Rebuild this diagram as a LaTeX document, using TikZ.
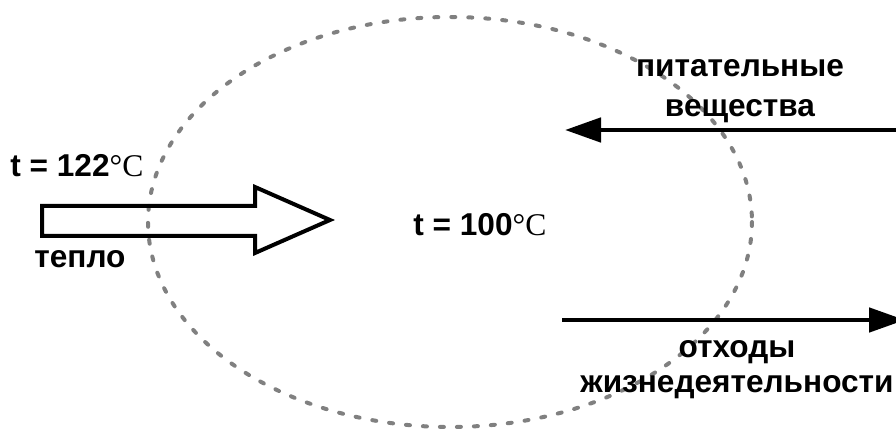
\documentclass[tikz,border=0pt]{standalone}
\usepackage{fontspec}
\setmainfont{Liberation Sans}
\newfontfamily\timesfont{Liberation Serif}
\usetikzlibrary{arrows.meta, positioning}
\newcommand{\degC}{{\timesfont\mdseries °C}}

\begin{document}
\begin{tikzpicture}[x=0.5pt, y=-0.5pt,
	txt/.style={font=\fontsize{15.8}{20}\selectfont\bfseries, inner sep=0pt, align=center},
	cell/.style={draw=black!50, line width=2pt, dash pattern=on 2pt off 6.5pt, line cap=round},
	flow/.style={-{Triangle[length=18pt, width=12pt]}, line width=2.4pt},
	heatarrow/.style={draw, line width=2pt, line join=miter}
	]
	\useasboundingbox (0,0) rectangle (896,433);
	% cell boundary
	\draw[cell] (450,222) ellipse (302 and 205);
	% heat coming in
	\draw[heatarrow] (42,206) -- (255,206) -- (255,187) -- (330,220) -- (255,253) -- (255,236) -- (42,236) -- cycle;
	\node[txt, anchor=base west] (t-out) at (10,177) {t = 122\degC};
	\node[txt, anchor=base west] (heat-lbl) at (34,268) {тепло};
	\node[txt, anchor=base west] (t-in) at (413,235) {t = 100\degC};
	% nutrients and wastes
	\coordinate (food-in) at (905,130);
	\coordinate (food-end) at (565,130);
	\coordinate (waste-start) at (562,320);
	\coordinate (waste-out) at (905,320);
	\draw[flow] (food-in) -- (food-end);
	\draw[flow] (waste-start) -- (waste-out);
	\node[txt, anchor=base] (food-lbl) at (740,117) {питательные\\вещества};
	\node[txt, font=\fontsize{15.8}{17.5}\selectfont\bfseries, anchor=base] (waste-lbl) at (737,393) {отходы\\жизнедеятельности};
\end{tikzpicture}
\end{document}
